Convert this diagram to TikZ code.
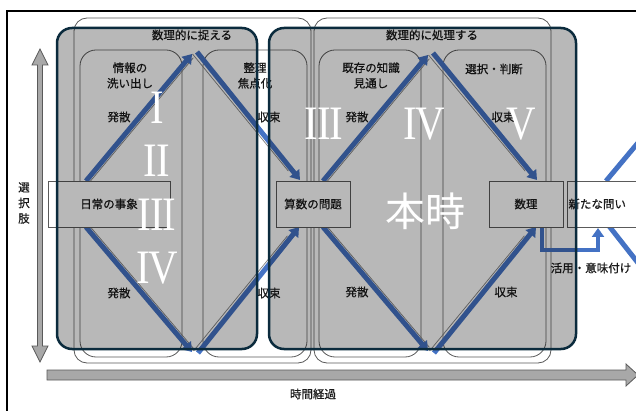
\documentclass[tikz,border=0pt]{standalone}
\usepackage{fontspec}
\setmainfont{Noto Sans CJK JP}
\newfontfamily\jpm[FakeBold=0.7]{Noto Sans CJK JP}
\newfontfamily\romfont[FakeStretch=0.85]{Liberation Serif}
\usetikzlibrary{arrows.meta,calc}
\definecolor{navy}{HTML}{0B2B3D}
\definecolor{arrowblue}{HTML}{4472C4}
\definecolor{linegray}{HTML}{5A5A5A}
\definecolor{shaftgray}{HTML}{A8A8A8}
\definecolor{txt}{HTML}{1A1A1A}
\begin{document}
\begin{tikzpicture}[x=1pt,y=-1pt,
  garrow/.style={fill=shaftgray,draw=linegray,line width=0.8pt,line join=miter},
  groupbox/.style={draw=linegray,line width=0.8pt,rounded corners=13pt,inner sep=0pt},
  innerbox/.style={draw=linegray,line width=0.8pt,rounded corners=16pt,inner sep=0pt},
  ebox/.style={draw=linegray,line width=0.9pt,fill=white,inner sep=0pt,minimum height=46pt,
    font=\jpm\fontsize{11.5}{14}\selectfont,text=txt},
  lbl/.style={font=\jpm\fontsize{11.5}{15.5}\selectfont,text=txt,inner sep=0pt,align=center},
  barrow/.style={draw=arrowblue,line width=5pt,-{Triangle[length=9pt,width=12pt]}},
  bline/.style={draw=arrowblue,line width=5pt},
  lshadow/.style={draw=gray,line width=0.7pt},
  darkbox/.style={draw=navy,line width=2.5pt,rounded corners=15pt,fill=black,fill opacity=0.28,inner sep=0pt},
  num/.style={text=white,inner sep=0pt,font=\romfont\fontsize{48}{48}\selectfont},
  hon/.style={text=white,inner sep=0pt,font=\fontsize{40}{40}\selectfont}]
\clip (0,0) rectangle (636,411);
\fill[white] (0,0) rectangle (636,411);
% frame
\draw[line width=1.5pt] (7,425) -- (7,11) -- (650,11);
% axes
\draw[garrow] (40,49) -- (48,65) -- (42.5,65) -- (42.5,346) -- (48,346) -- (40,362) -- (32,346) -- (37.5,346) -- (37.5,65) -- (32,65) -- cycle;
\draw[garrow] (47,370) -- (626,370) -- (626,364) -- (638,375) -- (626,386) -- (626,380) -- (47,380) -- cycle;
\node[lbl] (ax1) at (24,203) {選\\択\\肢};
\node[lbl] (ax2) at (313,394) {時間経過};
% group boxes
\node[groupbox,minimum width=237pt,minimum height=345pt] (g1) at (192.5,190.5) {};
\node[groupbox,minimum width=237pt,minimum height=345pt] (g2) at (432.5,190.5) {};
\node[innerbox,minimum width=102pt,minimum height=307pt] (ia) at (131,203.5) {};
\node[innerbox,minimum width=104pt,minimum height=307pt] (ib) at (255,203.5) {};
\node[innerbox,minimum width=102pt,minimum height=307pt] (ic) at (370,203.5) {};
\node[innerbox,minimum width=103pt,minimum height=307pt] (id) at (494.5,203.5) {};
% arrow coordinates
\coordinate (a1s) at (86,181);  \coordinate (a1e) at (192,54);
\coordinate (a2s) at (197,52);  \coordinate (a2e) at (300,180);
\coordinate (a3s) at (86,227);  \coordinate (a3e) at (192,352);
\coordinate (a4s) at (198,353); \coordinate (a4e) at (299,227);
\coordinate (b1s) at (323,181); \coordinate (b1e) at (428,55);
\coordinate (b2s) at (433,53);  \coordinate (b2e) at (537,180);
\coordinate (b3s) at (323,227); \coordinate (b3e) at (428,351);
\coordinate (b4s) at (434,353); \coordinate (b4e) at (536,227);
% shadows
\draw[lshadow] ($(a1s)+(4.5,0)$) -- ($(a1s)!0.97!(a1e)+(4.5,0)$);
\draw[lshadow] ($(a2s)+(-4.5,2)$) -- ($(a2s)!0.93!(a2e)+(-4.5,0)$);
\draw[lshadow] ($(a3s)+(4.5,0)$) -- ($(a3s)!0.97!(a3e)+(4.5,0)$);
\draw[lshadow] ($(a4s)+(-4.5,-2)$) -- ($(a4s)!0.93!(a4e)+(-4.5,0)$);
\draw[lshadow] ($(b1s)+(4.5,0)$) -- ($(b1s)!0.97!(b1e)+(4.5,0)$);
\draw[lshadow] ($(b2s)+(-4.5,2)$) -- ($(b2s)!0.93!(b2e)+(-4.5,0)$);
\draw[lshadow] ($(b3s)+(4.5,0)$) -- ($(b3s)!0.97!(b3e)+(4.5,0)$);
\draw[lshadow] ($(b4s)+(-4.5,-2)$) -- ($(b4s)!0.93!(b4e)+(-4.5,0)$);
% blue arrows
\draw[barrow] (a1s) -- (a1e);
\draw[barrow] (a2s) -- (a2e);
\draw[barrow] (a3s) -- (a3e);
\draw[barrow] (a4s) -- (a4e);
\draw[barrow] (b1s) -- (b1e);
\draw[barrow] (b2s) -- (b2e);
\draw[barrow] (b3s) -- (b3e);
\draw[barrow] (b4s) -- (b4e);
\coordinate (l1) at (542,226); \coordinate (l2) at (598,228);
\draw[barrow,line width=4pt] (l1) -- ++(0,24) -| (l2);
\coordinate (p1) at (606,181); \coordinate (p2) at (642,138);
\coordinate (q1) at (609,226); \coordinate (q2) at (642,268);
\draw[bline] (p1) -- (p2);
\draw[bline] (q1) -- (q2);
% boxes
\node[ebox,minimum width=122pt] (e1) at (109,204) {日常の事象};
\node[ebox,minimum width=74pt] (e2) at (313,204) {算数の問題};
\node[ebox,minimum width=74pt] (e3) at (526,204) {数理};
\node[ebox,minimum width=93pt,anchor=west,text width=91pt,inner xsep=1pt,align=left] (e4) at (567,204) {新たな問い};
% labels
\node[lbl] (t1) at (192,35) {数理的に捉える};
\node[lbl] (t2) at (432,35) {数理的に処理する};
\node[lbl] (t3) at (130,75.5) {情報の\\洗い出し};
\node[lbl] (t4) at (255,75.5) {整理\\焦点化};
\node[lbl] (t5) at (371,75.5) {既存の知識\\見通し};
\node[lbl] (t6) at (494,69) {選択・判断};
\node[lbl] (h1) at (119,117) {発散};
\node[lbl] (h2) at (269,117) {収束};
\node[lbl] (h3) at (357,117) {発散};
\node[lbl] (h4) at (503,117) {収束};
\node[lbl] (h5) at (119,293) {発散};
\node[lbl] (h6) at (269,293) {収束};
\node[lbl] (h7) at (357,292) {発散};
\node[lbl] (h8) at (506,292) {収束};
\node[lbl] (t7) at (591,268) {活用・意味付け};
% overlays
\node[darkbox,minimum width=200pt,minimum height=321pt] (d1) at (157,188.5) {};
\node[darkbox,minimum width=307pt,minimum height=321pt] (d2) at (422.5,188.5) {};
% numerals
\node[num] (n1) at (157,108) {I};
\node[num] (n2) at (157,161) {I\kern-1ptI};
\node[num] (n3) at (157,215) {I\kern-1ptI\kern-1ptI};
\node[num] (n4) at (157,268) {I\kern-2ptV};
\node[num] (n5) at (324,124) {I\kern-1ptI\kern-1ptI};
\node[num] (n6) at (424,124) {I\kern-2ptV};
\node[num] (n7) at (521,124) {V};
\node[hon] (hj) at (425,211) {本時};
\end{tikzpicture}
\end{document}
